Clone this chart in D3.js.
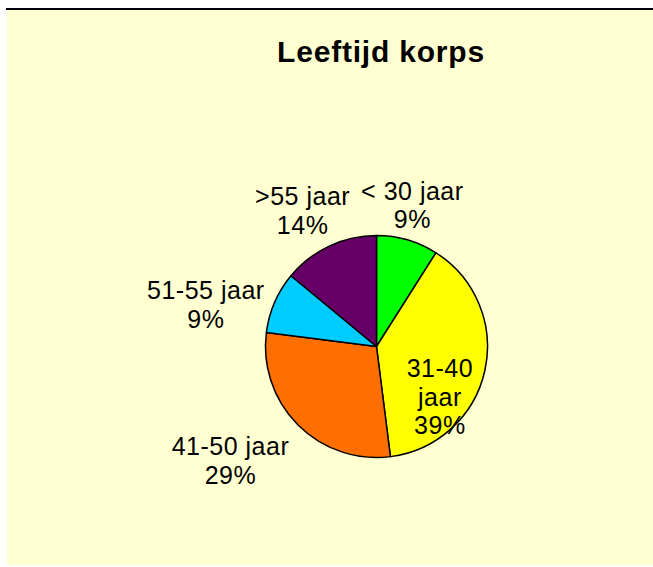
<!DOCTYPE html>
<html>
<head>
<meta charset="utf-8">
<script src="https://cdn.jsdelivr.net/npm/d3@7"></script>
<style>
  body { margin: 0; background: #fff; }
  svg { display: block; }
  text { font-family: "Liberation Sans", Arial, sans-serif; fill: #000; }
</style>
</head>
<body>
<svg id="chart" width="653" height="567"></svg>
<script>
// data
var categories = ["< 30 jaar", "31-40 jaar", "41-50 jaar", "51-55 jaar", ">55 jaar"]
var percentages = [9, 39, 29, 9, 14]
var labelLines = [["< 30 jaar", "9%"], ["31-40", "jaar", "39%"], ["41-50 jaar", "29%"], ["51-55 jaar", "9%"], [">55 jaar", "14%"]]

var sliceColours = ["#00ff00", "#ffff00", "#ff6f00", "#00ccff", "#660066"]
// Excel "best fit" placement, nudged from the label arc
var labelNudge = [[-6, 3], [-83, 18], [-40, 8], [-33, 18], [-10, 0]]

var svg = d3.select("#chart")
var cx = 376.5, cy = 346.5, radius = 111
var lineH = 28.5, capH = 17.5

svg.append("rect")
    .attr("x", 7).attr("y", 10)
    .attr("width", 646).attr("height", 555)
    .attr("fill", "#ffffd2")

svg.append("line")
    .attr("x1", 6).attr("x2", 653)
    .attr("y1", 9).attr("y2", 9)
    .style("stroke", "#000")
    .style("stroke-width", 2)

svg.append("text")
    .attr("x", 381).attr("y", 62)
    .attr("text-anchor", "middle")
    .style("font-weight", "bold")
    .style("font-size", "30px")
    .style("letter-spacing", "0.8px")
    .text("Leeftijd korps")

var pie = d3.pie().sort(null).value(function(d) { return d })
var arcs = pie(percentages)

var arc_fn = d3.arc().innerRadius(0).outerRadius(radius)
var label_arc = d3.arc().innerRadius(150).outerRadius(150)

var g = svg.append("g").attr("transform", "translate(" + cx + "," + cy + ")")

g.selectAll(".slice")
    .data(arcs)
    .enter()
    .append("path")
      .attr("class", "slice")
      .attr("d", arc_fn)
      .attr("fill", function(d, i) { return sliceColours[i] })
      .style("stroke", "#000")
      .style("stroke-width", 1.5)
      .style("stroke-linejoin", "round")

var labels = g.selectAll(".slice_label")
    .data(arcs)
    .enter()
    .append("text")
      .attr("class", "slice_label")
      .attr("text-anchor", "middle")
      .style("font-size", "25px")
      .style("letter-spacing", "0.5px")
      .attr("transform", function(d, i) {
          var c = label_arc.centroid(d)
          return "translate(" + (c[0] + labelNudge[i][0]) + "," + (c[1] + labelNudge[i][1]) + ")"
      })

labels.each(function(d, i) {
    var lines = labelLines[i]
    var blockH = capH + (lines.length - 1) * lineH
    var first = -blockH / 2 + capH
    d3.select(this).selectAll("tspan")
        .data(lines)
        .enter()
        .append("tspan")
          .attr("x", 0)
          .attr("y", function(t, j) { return first + j * lineH })
          .text(function(t) { return t })
})
</script>
</body>
</html>
